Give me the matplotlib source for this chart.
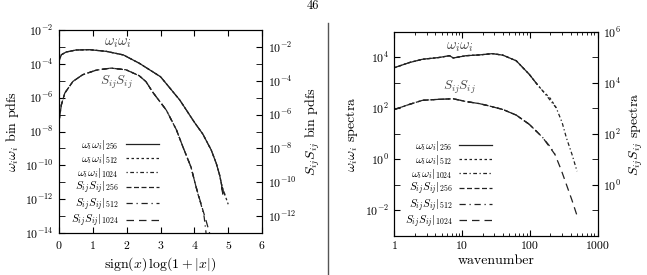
import matplotlib
matplotlib.use("Agg")
import matplotlib.pyplot as plt
import numpy as np
from matplotlib.lines import Line2D
from matplotlib.ticker import NullFormatter

plt.rcParams["font.family"] = ["cmr10", "DejaVu Serif"]
plt.rcParams["mathtext.fontset"] = "cm"
plt.rcParams["axes.unicode_minus"] = False
plt.rcParams["axes.formatter.use_mathtext"] = True
plt.rcParams["font.size"] = 8

# ---- pdf panel (values as log10) ----
# vorticity pdf, left axis
W_PDF_X = [0.0, 0.07, 0.21, 0.5, 0.9, 1.4, 1.9, 2.37, 3.0, 3.57, 4.0, 4.25, 4.5, 4.65, 4.75]
W_PDF_E = [-3.85, -3.46, -3.3, -3.18, -3.16, -3.26, -3.47, -3.96, -4.76, -6.14, -7.45, -8.15, -9.1, -9.9, -10.6]
W_TAIL_X = {256: [4.8, 4.84, 4.82, 4.85], 512: [4.8, 4.87, 4.93, 5.0], 1024: [4.8, 4.86, 4.92]}
W_TAIL_E = {256: [-11.1, -11.7, -11.3, -11.6], 512: [-11.1, -11.6, -11.9, -12.3], 1024: [-11.1, -11.5, -11.8]}
W_HEAD_E = {256: -3.85, 512: -3.65, 1024: -3.7}

# strain pdf, right axis
S_PDF_X = [0.0, 0.07, 0.17, 0.41, 0.7, 1.1, 1.54, 1.98, 2.37, 2.57, 2.78, 3.17, 3.47, 3.66, 3.9, 4.05]
S_PDF_E = [-6.4, -5.42, -4.73, -4.04, -3.64, -3.37, -3.25, -3.35, -3.7, -4.05, -4.7, -5.73, -6.9, -7.9, -9.1, -10.27]
S_TAIL_X = {256: [4.12, 4.2], 512: [4.19, 4.29, 4.34, 4.36], 1024: [4.2, 4.35, 4.45, 4.46]}
S_TAIL_E = {256: [-10.8, -11.3], 512: [-11.25, -12.05, -12.9, -13.3], 1024: [-11.3, -12.3, -13.0, -13.3]}

# ---- spectra panel (values as log10) ----
K_W = [1, 1.66, 2.6, 4.6, 6.5, 7.4, 11.5, 18, 28, 40, 63, 98, 128]
E_W = [3.6, 3.8, 3.93, 4.0, 4.07, 3.98, 4.07, 4.1, 4.15, 4.09, 3.87, 3.34, 2.95]
K_W_TAIL = {256: [], 512: [155, 200, 245], 1024: [155, 245, 300, 347, 420, 498]}
E_W_TAIL = {256: [], 512: [2.69, 2.4, 2.03], 1024: [2.69, 2.03, 1.45, 0.85, 0.2, -0.46]}

K_S = [1, 1.66, 2.6, 4.6, 7.4, 11.5, 18, 25, 40, 63, 98, 128]
E_S = [2.96, 3.16, 3.32, 3.36, 3.38, 3.27, 3.19, 3.1, 2.96, 2.74, 2.38, 2.08]
K_S_TAIL = {256: [], 512: [155, 200, 235], 1024: [155, 235, 290, 347, 420, 498]}
E_S_TAIL = {256: [], 512: [1.86, 1.5, 1.2], 1024: [1.86, 1.2, 0.6, 0.02, -0.6, -1.2]}

RES = [256, 512, 1024]
W_STYLE = {256: "-", 512: (0, (2, 2)), 1024: (0, (1, 2, 3, 2))}
S_STYLE = {256: (0, (4, 2)), 512: (0, (5, 3, 1, 3)), 1024: (0, (6, 4))}
COL = "#222222"
TXT = "#444444"


def style_log_y(ax, lo, hi, labels):
    ax.set_yscale("log")
    ax.set_ylim(10.0**lo, 10.0**hi)
    ax.set_yticks([10.0**e for e in labels])
    ax.set_yticks([10.0**e for e in range(lo, hi + 1) if e not in labels], minor=True)
    ax.yaxis.set_minor_formatter(NullFormatter())


def add_legend(ax, handles, anchor):
    ax.legend(handles=handles, loc="lower right", bbox_to_anchor=anchor, frameon=False,
              markerfirst=False, handlelength=3.0, labelspacing=0.0, fontsize=8,
              handletextpad=0.6, borderpad=0.2)


fig = plt.figure(figsize=(6.47, 2.75), dpi=100)

# ================= left panel =================
ax = fig.add_axes([0.0912, 0.1527, 0.3138, 0.738])
ax2 = ax.twinx()
handles = []
for r in RES:
    x = W_PDF_X + W_TAIL_X[r]
    e = [W_HEAD_E[r]] + W_PDF_E[1:] + W_TAIL_E[r]
    h, = ax.plot(x, 10.0**np.array(e), ls=W_STYLE[r], color=COL, lw=0.9,
                 label=r"$\omega_i\omega_i|_{%d}$" % r)
    handles.append(h)
for r in RES:
    x = S_PDF_X + S_TAIL_X[r]
    e = S_PDF_E + S_TAIL_E[r]
    h, = ax2.plot(x, 10.0**np.array(e), ls=S_STYLE[r], color=COL, lw=0.9,
                  label=r"$S_{ij}S_{ij}|_{%d}$" % r)
    handles.append(h)

ax.set_xlim(0, 6)
ax.set_xticks(range(7))
style_log_y(ax, -14, -2, [-14, -12, -10, -8, -6, -4, -2])
style_log_y(ax2, -13, -1, [-12, -10, -8, -6, -4, -2])
ax.tick_params(which="both", direction="in", top=True, right=False, length=4, pad=4, labelsize=8.5)
ax2.tick_params(which="both", direction="in", length=4, pad=4, labelsize=8.5)
ax.set_xlabel(r"sign$(x)\,\log(1+|x|)$", fontsize=10, labelpad=3)
ax.set_ylabel(r"$\omega_i\omega_i$ bin pdfs", fontsize=10, labelpad=3)
ax2.set_ylabel(r"$S_{ij}S_{ij}$ bin pdfs", fontsize=10, labelpad=5)
ax.text(1.75, 10.0**-2.77, r"$\omega_i\omega_i$", ha="center", va="center", fontsize=10.5, color=TXT)
ax.text(1.7, 10.0**-5.1, r"$S_{ij}S_{ij}$", ha="center", va="center", fontsize=9.5, color=TXT)
add_legend(ax, handles, (0.53, -0.02))

# ================= right panel =================
bx = fig.add_axes([0.6097, 0.1418, 0.3138, 0.742])
bx2 = bx.twinx()
handles = []
for r in RES:
    k = K_W + K_W_TAIL[r]
    e = E_W + E_W_TAIL[r]
    h, = bx.plot(k, 10.0**np.array(e), ls=W_STYLE[r], color=COL, lw=0.9,
                 label=r"$\omega_i\omega_i|_{%d}$" % r)
    handles.append(h)
for r in RES:
    k = K_S + K_S_TAIL[r]
    e = E_S + E_S_TAIL[r]
    h, = bx2.plot(k, 10.0**np.array(e), ls=S_STYLE[r], color=COL, lw=0.9,
                  label=r"$S_{ij}S_{ij}|_{%d}$" % r)
    handles.append(h)

bx.set_xscale("log")
bx.set_xlim(1, 1000)
bx.set_xticks([1, 10, 100, 1000], ["1", "10", "100", "1000"])
bx.xaxis.set_minor_formatter(NullFormatter())
style_log_y(bx, -3, 5, [-2, 0, 2, 4])
style_log_y(bx2, -2, 6, [0, 2, 4, 6])
bx.tick_params(which="both", direction="in", top=True, right=False, pad=4, labelsize=8.5)
bx.tick_params(axis="y", which="both", length=4)
bx.tick_params(axis="x", which="major", length=4)
bx.tick_params(axis="x", which="minor", length=2.5)
bx2.tick_params(which="both", direction="in", length=4, pad=4, labelsize=8.5)
bx.set_xlabel("wavenumber", fontsize=10, labelpad=3)
bx.set_ylabel(r"$\omega_i\omega_i$ spectra", fontsize=10, labelpad=3)
bx2.set_ylabel(r"$S_{ij}S_{ij}$ spectra", fontsize=10, labelpad=5)
bx.text(9.2, 10.0**4.4, r"$\omega_i\omega_i$", ha="center", va="center", fontsize=10.5, color=TXT)
bx.text(9.2, 10.0**2.82, r"$S_{ij}S_{ij}$", ha="center", va="center", fontsize=9.5, color=TXT)
add_legend(bx, handles, (0.52, -0.01))

# page decorations
fig.text(313 / 647, 1 - 6 / 275, "46", ha="center", va="center", fontsize=9)
fig.add_artist(Line2D([328 / 647, 328 / 647], [0, 1 - 23 / 275], transform=fig.transFigure,
                      color="#555555", lw=1.0))

fig.savefig("out.png", dpi=100)
